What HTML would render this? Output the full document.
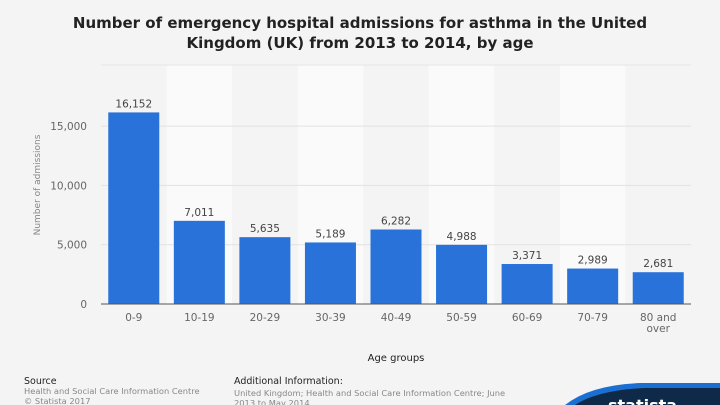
<!DOCTYPE html>
<html><head><meta charset="utf-8"><style>
body{margin:0;background:#f4f4f4;font-family:"Liberation Sans","DejaVu Sans",sans-serif;}
svg{display:block}
</style></head><body>
<svg width="720" height="405" viewBox="0 0 720 405">
<rect width="720" height="405" fill="#f4f4f4"/>
<text x="360" y="28" text-anchor="middle" font-size="15" font-weight="bold" fill="#222" font-family="DejaVu Sans">Number of emergency hospital admissions for asthma in the United</text>
<text x="360" y="48" text-anchor="middle" font-size="15" font-weight="bold" fill="#222" font-family="DejaVu Sans">Kingdom (UK) from 2013 to 2014, by age</text>
<g id="bands"></g><g id="grid"></g><g id="bars"></g>
<text transform="translate(40,185) rotate(-90)" text-anchor="middle" font-size="9" fill="#888" font-family="DejaVu Sans">Number of admissions</text>
<text x="396" y="361" text-anchor="middle" font-size="10" fill="#222" font-family="DejaVu Sans">Age groups</text>
<text x="24" y="384" font-size="9.5" fill="#222" font-family="DejaVu Sans">Source</text>
<text x="24" y="394" font-size="8.3" fill="#888" font-family="DejaVu Sans">Health and Social Care Information Centre</text>
<text x="24" y="404" font-size="8.3" fill="#888" font-family="DejaVu Sans">© Statista 2017</text>
<text x="234" y="384" font-size="9.5" fill="#222" font-family="DejaVu Sans">Additional Information:</text>
<text x="234" y="396" font-size="8.3" fill="#888" font-family="DejaVu Sans">United Kingdom; Health and Social Care Information Centre; June</text>
<text x="234" y="406" font-size="8.3" fill="#888" font-family="DejaVu Sans">2013 to May 2014</text>
<path d="M565,405 Q590,385 640,383 L720,383 L720,405 Z" fill="#1b6fd1"/>
<path d="M575,405 Q598,390 645,388 L720,388 L720,405 Z" fill="#0f2a48"/>
<text x="608" y="411" font-size="16" font-weight="bold" fill="#fff" font-family="DejaVu Sans">statista</text>
</svg>
<script>
const categories=["0-9","10-19","20-29","30-39","40-49","50-59","60-69","70-79","80 and over"];
const values=[16152,7011,5635,5189,6282,4988,3371,2989,2681];
const yTicks=[0,5000,10000,15000];
const yTickLabels=["0","5,000","10,000","15,000"];
const NS="http://www.w3.org/2000/svg";
const x0=101,x1=691,yBase=304,yTop=65,yMax=20150;
const bw=(x1-x0)/categories.length;
function y(v){return yBase-(v/yMax)*(yBase-yTop);}
function xc(i){return x0+bw*(i+0.5);}
function mk(tag,attrs,parent){const e=document.createElementNS(NS,tag);for(const k in attrs)e.setAttribute(k,attrs[k]);document.getElementById(parent).appendChild(e);return e;}
categories.forEach((c,i)=>{
 if(i%2===1){const b=mk('rect',{x:x0+bw*i,y:yTop,width:bw,height:yBase-yTop,fill:'#fafafa'},'bands');
 
 }
});
const topLine=mk('line',{x1:x0,x2:x1,y1:yTop,y2:yTop,stroke:'#e6e6e6'},'grid');


yTicks.forEach((t,i)=>{
 if(t>0){const l=mk('line',{x1:x0,x2:x1,y1:y(t),y2:y(t),stroke:'#e2e2e2'},'grid');
 
 }
 const tx=mk('text',{x:87,y:y(t)+4,'text-anchor':'end','font-size':'10.5',fill:'#666','font-family':'DejaVu Sans'},'grid');
 tx.textContent=yTickLabels[i];
 
 
});
categories.forEach((c,i)=>{
 const r=mk('rect',{x:xc(i)-25.5,y:y(values[i]),width:51,height:yBase-y(values[i]),fill:'#2872d9'},'bars');
 
 
 const v=mk('text',{x:xc(i),y:y(values[i])-5,'text-anchor':'middle','font-size':'10.5',fill:'#444','font-family':'DejaVu Sans'},'bars');
 v.textContent=values[i].toLocaleString('en-US');
 
 
 const parts=c==="80 and over"?["80 and","over"]:[c];
 parts.forEach((p,j)=>{
  const t=mk('text',{x:xc(i),y:321+j*11,'text-anchor':'middle','font-size':'10.5',fill:'#666','font-family':'DejaVu Sans'},'bars');
  t.textContent=p;
  
  
 });
});
const ax=mk('line',{x1:x0,x2:x1,y1:yBase,y2:yBase,stroke:'#555','stroke-width':1},'bars');


</script>
</body></html>
